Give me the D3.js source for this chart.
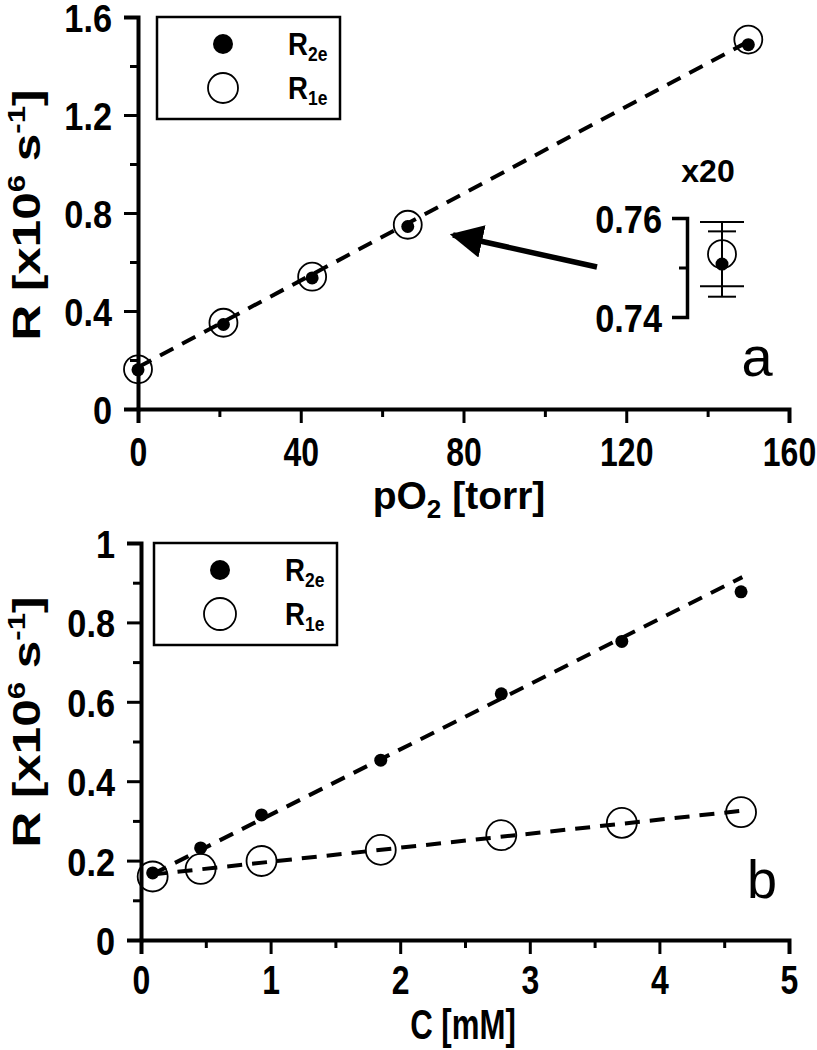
<!DOCTYPE html>
<html>
<head>
<meta charset="utf-8">
<script src="https://cdn.jsdelivr.net/npm/d3@7"></script>
<style>
  body { margin: 0; background: #fff; }
  svg { display: block; }
  text { font-family: "Liberation Sans", Arial, sans-serif; fill: #000; }
  .tick text { font-size: 39px; font-weight: bold; }
</style>
</head>
<body>
<svg id="chart" width="817" height="1050"></svg>
<script>
// panel a: R vs pO2
const pO2 = [0, 21, 42.8, 66.3, 150];
const r2eA = [0.16, 0.345, 0.535, 0.745, 1.487];
const r1eA = [0.162, 0.352, 0.54, 0.752, 1.508];
const fitAx = [0, 150];
const fitAy = [0.17, 1.5];
const xTicksA = [0, 40, 80, 120, 160];
const yTicksA = [0, 0.4, 0.8, 1.2, 1.6];

// inset (x20) for the 66 torr point
const insetTicks = [0.74, 0.76];
const insetR1e = 0.7527, insetR1eErr = 0.0065;
const insetR2e = 0.7507, insetR2eErr = 0.0066;

// panel b: R vs concentration
const conc = [0.09, 0.46, 0.93, 1.85, 2.78, 3.71, 4.63];
const r2eB = [0.169, 0.232, 0.315, 0.453, 0.62, 0.752, 0.877];
const r1eB = [0.16, 0.179, 0.199, 0.227, 0.264, 0.295, 0.322];
const fitB2x = [0.09, 4.64], fitB2y = [0.166, 0.914];
const fitB1x = [0.09, 4.62], fitB1y = [0.165, 0.325];
const xTicksB = [0, 1, 2, 3, 4, 5];
const yTicksB = [0, 0.2, 0.4, 0.6, 0.8, 1];

const svg = d3.select("#chart");

// the original lettering is narrow, so squeeze texts around their anchor
function squeeze(sel, sx, sy = 1) {
    sel.each(function () {
        const t = d3.select(this);
        const x = +t.attr("x") || 0, y = +t.attr("y") || 0;
        t.attr("transform", `translate(${x},${y}) scale(${sx},${sy}) translate(${-x},${-y})`);
    });
}

function drawAxes(g, x, y, xTicks, yTicks, xMinor, yMinor, yFmt, xPad) {
    const xa = g.append("g")
        .attr("transform", `translate(0,${y.range()[0]})`)
        .call(d3.axisBottom(x).tickValues(xTicks).tickSize(14).tickPadding(xPad).tickFormat(d3.format("d")));
    const xm = g.append("g")
        .attr("transform", `translate(0,${y.range()[0]})`)
        .call(d3.axisBottom(x).tickValues(xMinor).tickSize(8).tickFormat(""));
    const ya = g.append("g")
        .attr("transform", `translate(${x.range()[0]},0)`)
        .call(d3.axisLeft(y).tickValues(yTicks).tickSize(14).tickPadding(12).tickFormat(yFmt));
    const ym = g.append("g")
        .attr("transform", `translate(${x.range()[0]},0)`)
        .call(d3.axisLeft(y).tickValues(yMinor).tickSize(8).tickFormat(""));
    [xa, xm, ya, ym].forEach(a => {
        a.select(".domain").attr("stroke-width", 4).attr("stroke", "#000");
        a.selectAll(".tick line").attr("stroke-width", 3).attr("stroke", "#000");
    });
    ya.selectAll(".tick text").attr("dy", "0.37em");
    squeeze(xa.selectAll(".tick text"), 0.82, 1.02);
    squeeze(ya.selectAll(".tick text"), 0.88);
    xm.select(".domain").remove();
    ym.select(".domain").remove();
}

function fitLine(g, x, y, xs, ys) {
    g.append("path")
        .datum(xs.map((d, i) => [d, ys[i]]))
        .attr("d", d3.line().x(d => x(d[0])).y(d => y(d[1])))
        .attr("fill", "none")
        .attr("stroke", "#000")
        .attr("stroke-width", 4)
        .attr("stroke-dasharray", "15,10");
}

function points(g, x, y, xs, ys, filled, r) {
    g.selectAll(null)
        .data(xs.map((d, i) => [d, ys[i]]))
        .join("circle")
        .attr("cx", d => x(d[0]))
        .attr("cy", d => y(d[1]))
        .attr("r", r)
        .attr("fill", filled ? "#000" : "none")
        .attr("stroke", "#000")
        .attr("stroke-width", filled ? 0 : 1.8);
}

function legend(g, bx, by, rOpen) {
    g.append("rect")
        .attr("x", bx).attr("y", by).attr("width", 183).attr("height", 102)
        .attr("fill", "#fff").attr("stroke", "#000").attr("stroke-width", 2.5);
    g.append("circle").attr("cx", bx + 66).attr("cy", by + 27).attr("r", 10).attr("fill", "#000");
    g.append("circle").attr("cx", bx + 66).attr("cy", by + 71).attr("r", rOpen)
        .attr("fill", "#fff").attr("stroke", "#000").attr("stroke-width", 1.8);
    [["2e", 38], ["1e", 82]].forEach(([sub, dy]) => {
        const t = g.append("text").attr("x", bx + 131).attr("y", by + dy)
            .attr("font-size", 30).attr("font-weight", "bold");
        t.append("tspan").text("R");
        t.append("tspan").attr("font-size", 19).attr("dy", 6).text(sub);
        squeeze(t, 0.92, 1.05);
    });
}

function yTitle(g, cx, cy) {
    // glyphs in the original run long along the axis, so stretch along the text
    const t = g.append("text")
        .attr("transform", `translate(${cx},${cy}) rotate(-90) scale(1.3,1)`)
        .attr("text-anchor", "middle")
        .attr("font-size", 38).attr("font-weight", "bold");
    t.append("tspan").text("R [x10");
    t.append("tspan").attr("font-size", 24).attr("dy", -15).text("6");
    t.append("tspan").attr("dy", 15).text(" s");
    t.append("tspan").attr("font-size", 24).attr("dy", -15).text("-1");
    t.append("tspan").attr("dy", 15).text("]");
}

// ---------- panel a ----------
const xA = d3.scaleLinear().domain([0, 160]).range([138, 789]);
const yA = d3.scaleLinear().domain([0, 1.6]).range([409, 17]);
const gA = svg.append("g");

drawAxes(gA, xA, yA, xTicksA, yTicksA, [20, 60, 100, 140], [0.2, 0.6, 1.0, 1.4],
    d => d === 0 ? "0" : d3.format(".1f")(d), 15);
fitLine(gA, xA, yA, fitAx, fitAy);
points(gA, xA, yA, pO2, r1eA, false, 14);
points(gA, xA, yA, pO2, r2eA, true, 6.5);
legend(gA, 157, 17, 15);
yTitle(gA, 40, 215);

const tA = gA.append("text").attr("x", 459).attr("y", 509).attr("text-anchor", "middle")
    .attr("font-size", 39).attr("font-weight", "bold");
tA.append("tspan").text("pO");
tA.append("tspan").attr("font-size", 26).attr("dy", 9).text("2");
tA.append("tspan").attr("dy", -9).text(" [torr]");

gA.append("text").attr("x", 757).attr("y", 376).attr("text-anchor", "middle")
    .attr("font-size", 56).text("a");

// inset
const yIn = d3.scaleLinear().domain([0.74, 0.76]).range([317, 218]);
const inX = 687, ptX = 722;
const gIn = gA.append("g");
const inAxis = gIn.append("g").attr("transform", `translate(${inX},0)`)
    .call(d3.axisLeft(yIn).tickValues(insetTicks).tickSize(15).tickPadding(10).tickFormat(d3.format(".2f")));
const inMinor = gIn.append("g").attr("transform", `translate(${inX},0)`)
    .call(d3.axisLeft(yIn).tickValues([0.75]).tickSize(8).tickFormat(""));
[inAxis, inMinor].forEach(a => {
    a.select(".domain").attr("stroke-width", 3.5).attr("stroke", "#000");
    a.selectAll(".tick line").attr("stroke-width", 3).attr("stroke", "#000");
});
inMinor.select(".domain").remove();
inAxis.selectAll(".tick text").attr("font-size", 38).attr("dy", "0.37em");
squeeze(inAxis.selectAll(".tick text"), 0.88);

[[insetR1e, insetR1eErr, 22], [insetR2e, insetR2eErr, 14]].forEach(([v, e, w]) => {
    gIn.append("line").attr("x1", ptX).attr("x2", ptX)
        .attr("y1", yIn(v + e)).attr("y2", yIn(v - e))
        .attr("stroke", "#000").attr("stroke-width", 2);
    [v + e, v - e].forEach(c => {
        gIn.append("line").attr("x1", ptX - w).attr("x2", ptX + w)
            .attr("y1", yIn(c)).attr("y2", yIn(c))
            .attr("stroke", "#000").attr("stroke-width", 2);
    });
});
gIn.append("circle").attr("cx", ptX).attr("cy", yIn(insetR1e)).attr("r", 14)
    .attr("fill", "none").attr("stroke", "#000").attr("stroke-width", 1.8);
gIn.append("circle").attr("cx", ptX).attr("cy", yIn(insetR2e)).attr("r", 6.5).attr("fill", "#000");
gIn.append("text").attr("x", 708).attr("y", 182).attr("text-anchor", "middle")
    .attr("font-size", 32).attr("font-weight", "bold").text("x20");

// arrow pointing at the 66 torr point
svg.append("defs").append("marker")
    .attr("id", "head").attr("viewBox", "0 0 10 10")
    .attr("refX", 9).attr("refY", 5)
    .attr("markerWidth", 6).attr("markerHeight", 6)
    .attr("markerUnits", "strokeWidth")
    .attr("orient", "auto")
    .append("path").attr("d", "M0,0 L10,5 L0,10 Z").attr("fill", "#000");
gA.append("line")
    .attr("x1", 597).attr("y1", 267).attr("x2", 453).attr("y2", 235)
    .attr("stroke", "#000").attr("stroke-width", 5.5)
    .attr("marker-end", "url(#head)");

// ---------- panel b ----------
const xB = d3.scaleLinear().domain([0, 5]).range([141, 789]);
const yB = d3.scaleLinear().domain([0, 1]).range([940, 543]);
const gB = svg.append("g");

drawAxes(gB, xB, yB, xTicksB, yTicksB, [0.5, 1.5, 2.5, 3.5, 4.5], [0.1, 0.3, 0.5, 0.7, 0.9],
    d => (d === 0 || d === 1) ? d3.format("d")(d) : d3.format(".1f")(d), 12);
fitLine(gB, xB, yB, fitB2x, fitB2y);
fitLine(gB, xB, yB, fitB1x, fitB1y);
points(gB, xB, yB, conc, r1eB, false, 15);
points(gB, xB, yB, conc, r2eB, true, 6.5);
legend(gB, 154, 543, 16);
yTitle(gB, 40, 722);

const tB = gB.append("text").attr("x", 463).attr("y", 1039).attr("text-anchor", "middle")
    .attr("font-size", 40).attr("font-weight", "bold").text("C [mM]");
squeeze(tB, 0.78, 1.04);

gB.append("text").attr("x", 762).attr("y", 898).attr("text-anchor", "middle")
    .attr("font-size", 54).text("b");
</script>
</body>
</html>
